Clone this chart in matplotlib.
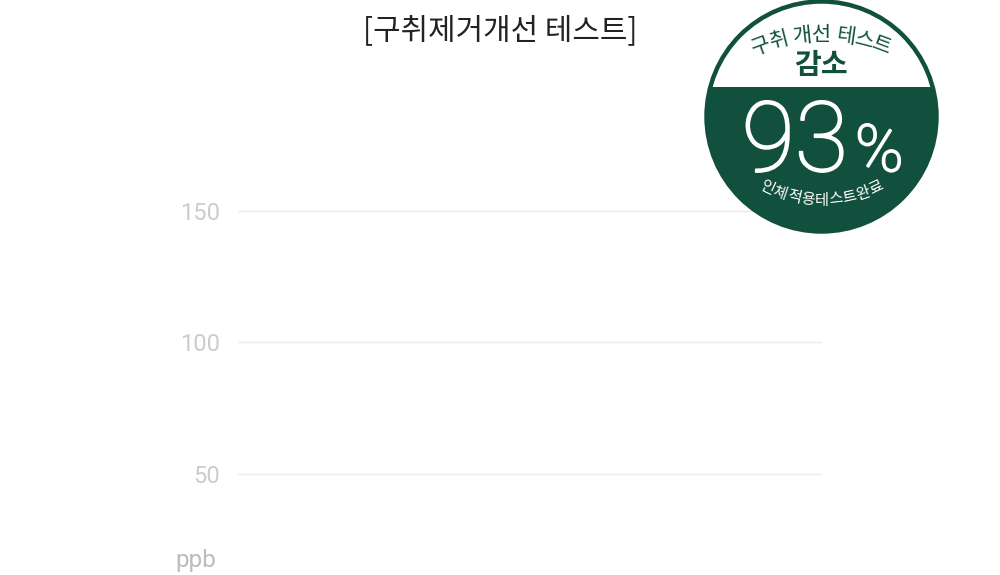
import numpy as np
import matplotlib
matplotlib.use("Agg")
import matplotlib.pyplot as plt
import matplotlib.patheffects as pe
from matplotlib.patches import Circle, Rectangle

plt.rcParams['font.family'] = ['Noto Sans CJK KR', 'DejaVu Sans']

# chart data
title = "[구취제거개선 테스트]"
y_ticks = [50, 100, 150]
unit_label = "ppb"

# badge texts
badge_top = "구취 개선 테스트"
badge_head = "감소"
badge_value = "93"
badge_pct = "%"
badge_bottom = "인체적용테스트완료"

GREEN = "#10503c"
W, H = 1000, 575

fig = plt.figure(figsize=(10, 5.75), dpi=100)

# main (empty) axis with grid
ax = fig.add_axes([238 / W, 0.0, (822 - 238) / W, (575 - 132) / H])
ax.set_xlim(0, 1)
ax.set_ylim(11.6, 180)
ax.set_yticks(y_ticks)
ax.set_yticklabels([str(v) for v in y_ticks], fontsize=17, color="#cccccc",
                   family=['Roboto', 'DejaVu Sans'])
ax.set_xticks([])
ax.tick_params(axis='y', length=0, pad=13)
ax.grid(axis='y', color="#ebebeb", linewidth=1.0)
for s in ax.spines.values():
    s.set_visible(False)
ax.set_facecolor("none")

# overlay in pixel coordinates for title, unit and badge
ov = fig.add_axes([0, 0, 1, 1])
ov.set_xlim(0, W)
ov.set_ylim(H, 0)
ov.axis('off')
ov.set_facecolor("none")

ov.text(500, 31, title, ha='center', va='center', fontsize=21.5, color="#222222")
ov.text(175, 561, unit_label, ha='left', va='center', fontsize=17.5, color="#bcbcbc",
        family=['Roboto', 'DejaVu Sans'])

# badge
cx, cy, r = 821.5, 116.5, 115
disk = Circle((cx, cy), r, facecolor="white", edgecolor=GREEN, linewidth=3.2, zorder=2)
ov.add_patch(disk)
low = Rectangle((cx - r - 5, 87), 2 * r + 10, r + 40, facecolor=GREEN, edgecolor='none', zorder=3)
ov.add_patch(low)
low.set_clip_path(disk)

# top arc text
acx, acy, ar = 821.5, 207, 172
widths = [6 if ch == " " else 18.5 for ch in badge_top]
pos = np.cumsum(widths) - np.array(widths) / 2
pos = pos - pos[-1] / 2 - widths[0] / 4
for ch, p in zip(badge_top, pos):
    th = p / ar
    x = acx + ar * np.sin(th)
    y = acy - ar * np.cos(th)
    ov.text(x, y, ch, ha='center', va='center', rotation=-np.degrees(th),
            fontsize=15, color=GREEN, zorder=5)

ov.text(cx, 65, badge_head, ha='center', va='center', fontsize=21, fontweight='bold',
        color=GREEN, zorder=5)

# thin font thickened a little with a stroke to get a light weight
light = [pe.withStroke(linewidth=1.4, foreground="white")]
ov.text(848, 171, badge_value, ha='right', va='baseline', fontsize=70, fontweight='light',
        color="white", zorder=5, family=['Roboto', 'DejaVu Sans'], path_effects=light)
ov.text(855, 171, badge_pct, ha='left', va='baseline', fontsize=47, fontweight='light',
        color="white", zorder=5, family=['Roboto', 'DejaVu Sans'], path_effects=light)

# bottom arc text
bcx, bcy, br = 821.5, 74, 126
n = len(badge_bottom)
step = 14.0
for i, ch in enumerate(badge_bottom):
    ph = (i - (n - 1) / 2) * step / br
    x = bcx + br * np.sin(ph)
    y = bcy + br * np.cos(ph)
    ov.text(x, y, ch, ha='center', va='center', rotation=np.degrees(ph),
            fontsize=11, color="white", zorder=5)

fig.savefig("out.png", dpi=100, facecolor="white")
